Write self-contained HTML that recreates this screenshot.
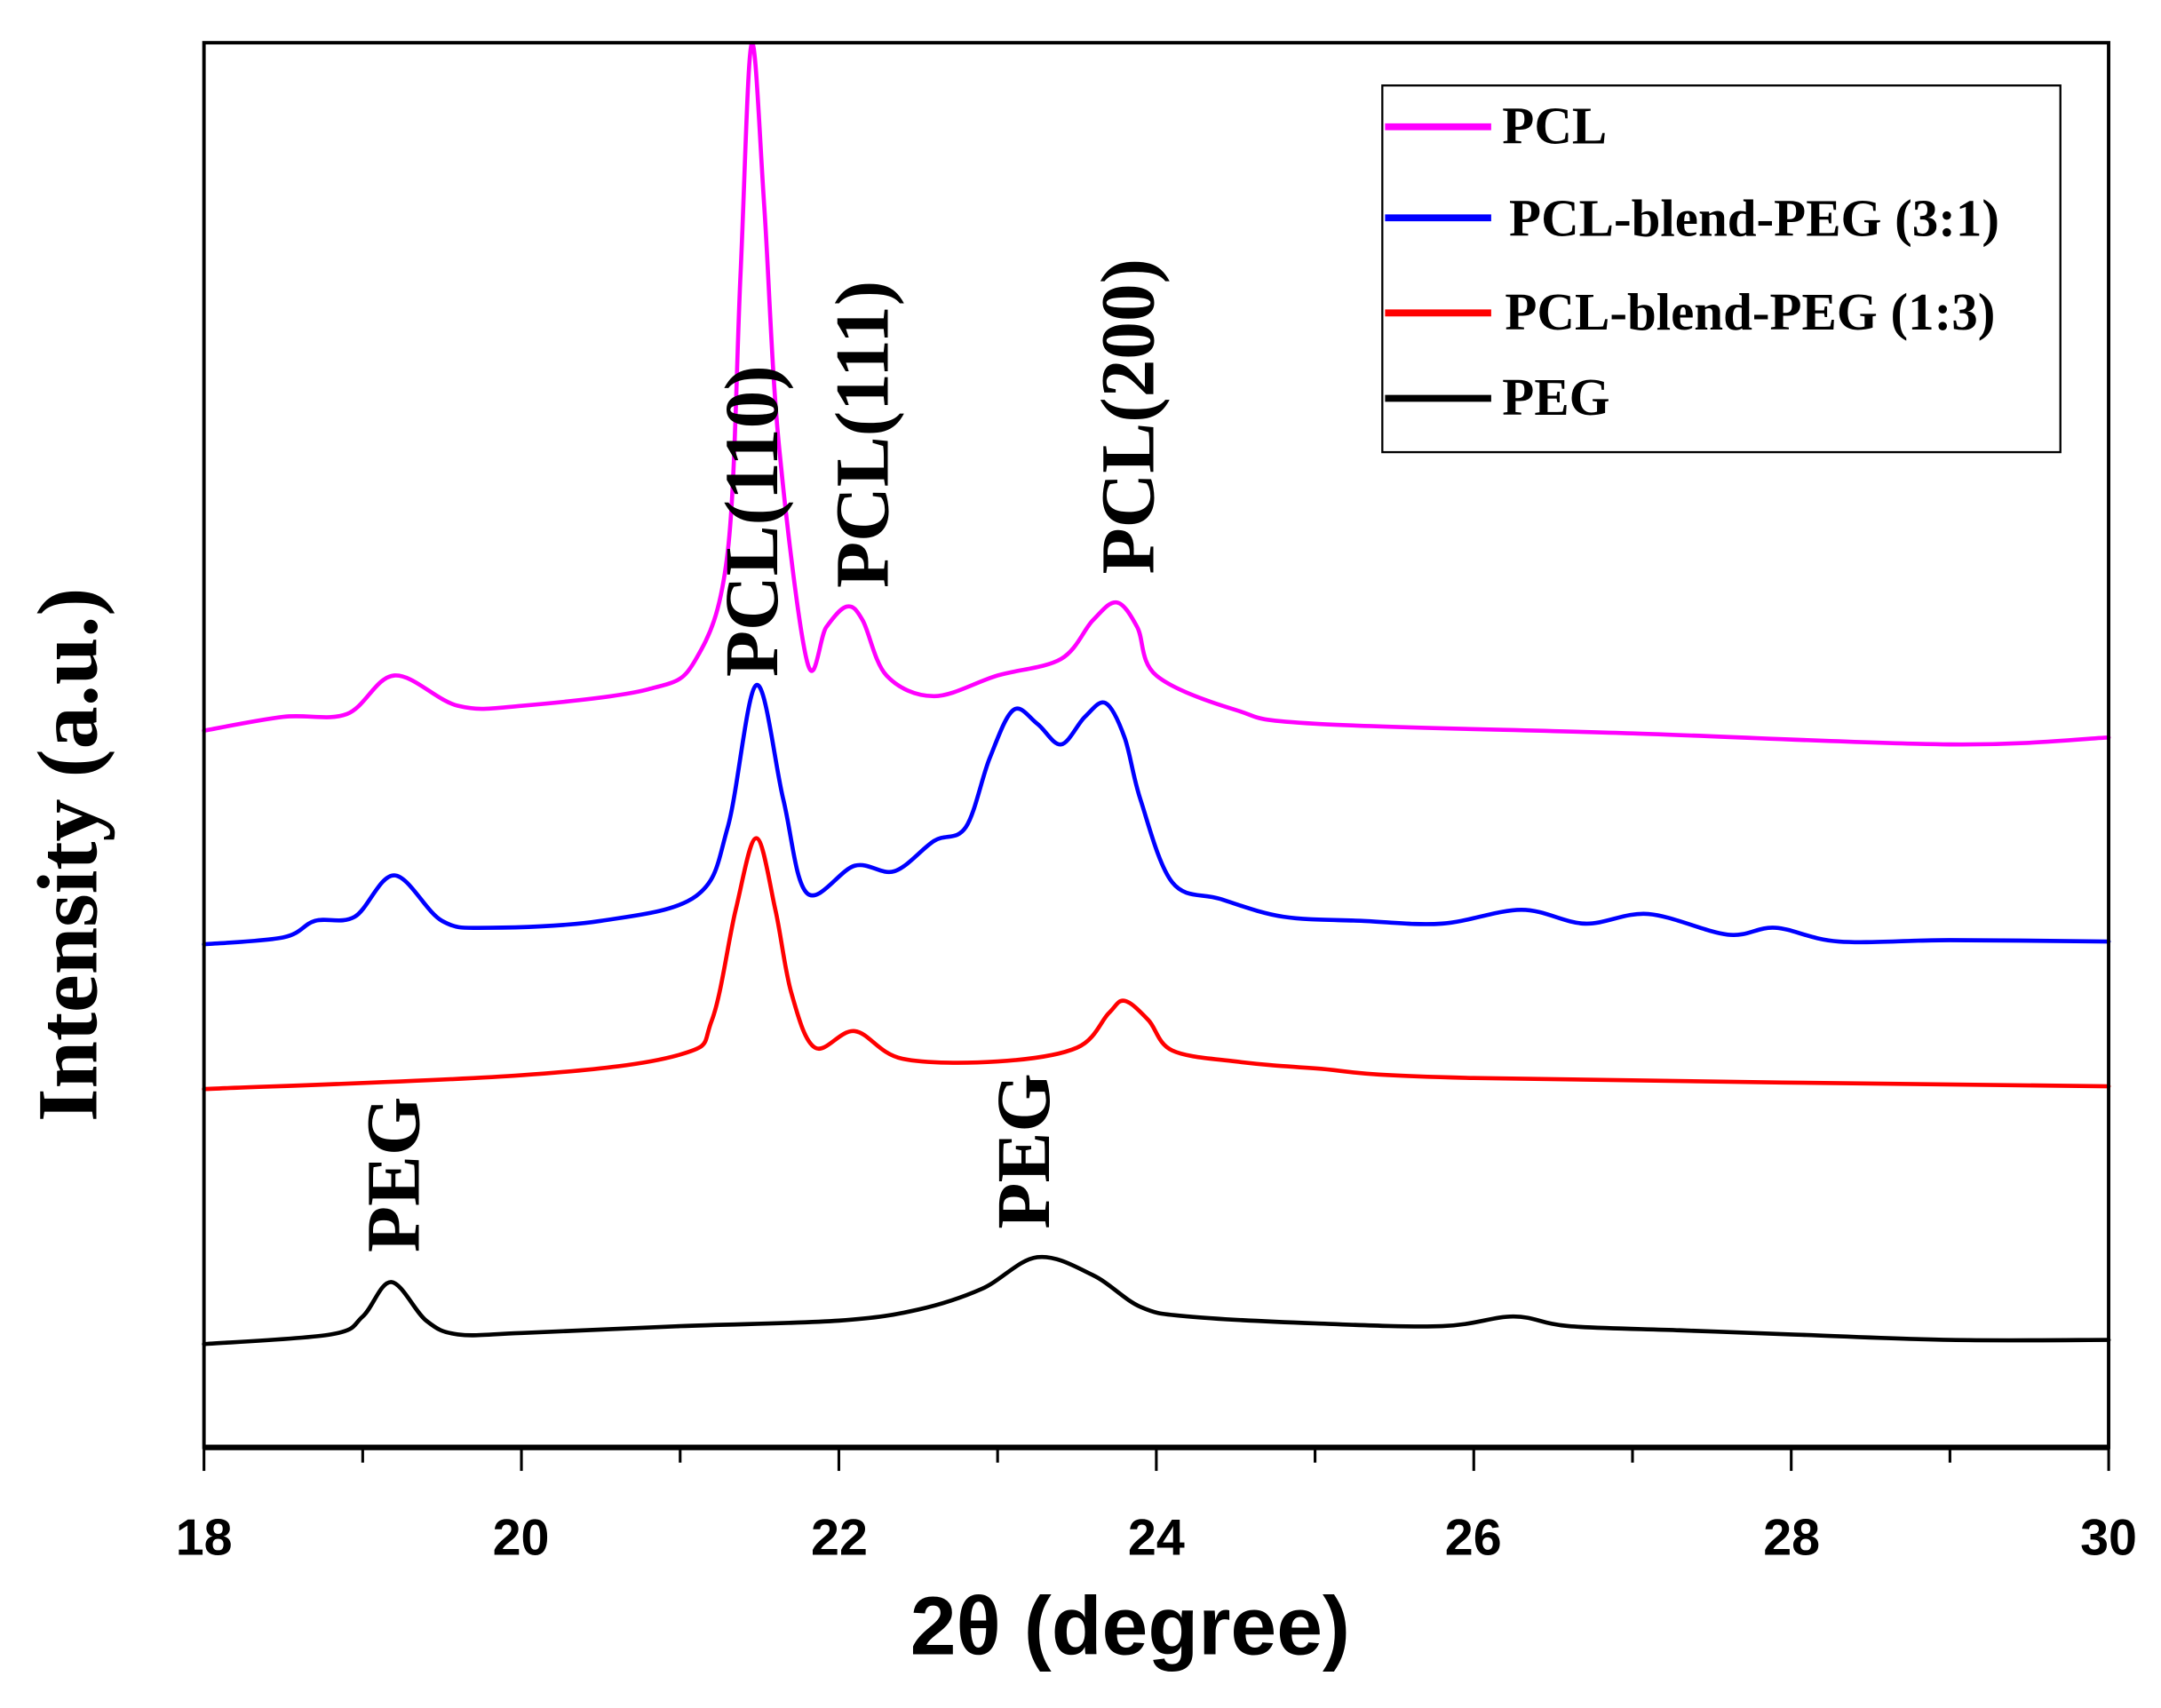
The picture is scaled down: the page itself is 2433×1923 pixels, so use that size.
<!DOCTYPE html>
<html><head><meta charset="utf-8"><style>
html,body{margin:0;padding:0;background:#fff;}
svg{display:block;}
.t{font-family:"Liberation Serif",serif;font-weight:bold;fill:#000;}
.s{font-family:"Liberation Sans",sans-serif;font-weight:bold;fill:#000;}
</style></head><body>
<svg id="c" width="2433" height="1923" viewBox="0 0 1568 1239" preserveAspectRatio="none" xmlns="http://www.w3.org/2000/svg">
<rect x="0" y="0" width="1568" height="1239" fill="#fff"/>
<g id="series" fill="none" stroke-width="3" stroke-linejoin="round" stroke-linecap="round"></g>
<rect x="148" y="31" width="1382" height="1019" fill="none" stroke="#000" stroke-width="2.5"/>
<line x1="148" y1="1050" x2="1530" y2="1050" stroke="#000" stroke-width="4"/>
<g id="ticks" stroke="#000" stroke-width="2"></g>
<g class="s" font-size="37" text-anchor="middle">
<text x="148" y="1128">18</text><text x="378" y="1128">20</text><text x="609" y="1128">22</text>
<text x="839" y="1128">24</text><text x="1069" y="1128">26</text><text x="1300" y="1128">28</text><text x="1530" y="1128">30</text>
</g>
<text class="s" x="820" y="1200" font-size="60" text-anchor="middle">2θ (degree)</text>
<text class="t" font-size="62" text-anchor="middle" transform="translate(70,620) rotate(-90)">Intensity (a.u.)</text>
<g class="t" font-size="55" text-anchor="middle">
<text transform="translate(564,378) rotate(-90)">PCL(110)</text>
<text transform="translate(644,315) rotate(-90)">PCL(111)</text>
<text transform="translate(837,302) rotate(-90)">PCL(200)</text>
<text transform="translate(304,852) rotate(-90)">PEG</text>
<text transform="translate(761,835) rotate(-90)">PEG</text>
</g>
<rect x="1003" y="62" width="492" height="266" fill="#fff" stroke="#000" stroke-width="1.5"/>
<g stroke-width="5">
<line x1="1005" y1="92" x2="1082" y2="92" stroke="#ff00ff"/>
<line x1="1005" y1="158" x2="1082" y2="158" stroke="#0000ff"/>
<line x1="1005" y1="227" x2="1082" y2="227" stroke="#ff0000"/>
<line x1="1005" y1="289" x2="1082" y2="289" stroke="#000"/>
</g>
<g class="t" font-size="38">
<text x="1090" y="104">PCL</text>
<text x="1095" y="171">PCL-blend-PEG (3:1)</text>
<text x="1092" y="239">PCL-blend-PEG (1:3)</text>
<text x="1090" y="301">PEG</text>
</g>
</svg>
<script>
var X=function(x){return 148+(x-18)*115.17;};
var data={
"#ff00ff":[[18,530],[18.5,520],[18.9,518],[19.2,490],[19.6,512],[20,512],[20.8,500],[21.1,478],[21.3,400],[21.38,200],[21.45,32],[21.53,150],[21.62,320],[21.8,480],[21.92,455],[22.05,440],[22.15,450],[22.3,490],[22.6,505],[23,490],[23.4,478],[23.6,450],[23.75,437],[23.88,455],[24.0,490],[24.5,515],[25,525],[27,532],[29,540],[30,535]],
"#0000ff":[[18,685],[18.5,680],[18.7,668],[18.95,665],[19.2,635],[19.5,668],[19.8,673],[20.5,668],[21.1,650],[21.3,600],[21.48,497],[21.65,580],[21.8,648],[22.1,628],[22.35,632],[22.6,610],[22.8,600],[22.95,550],[23.1,515],[23.25,525],[23.4,540],[23.55,520],[23.68,510],[23.8,535],[23.9,580],[24.1,640],[24.4,652],[24.8,665],[25.3,668],[25.8,670],[26.3,660],[26.7,670],[27.1,663],[27.6,678],[27.9,673],[28.3,683],[29,682],[30,683]],
"#ff0000":[[18,790],[20,780],[21,765],[21.2,740],[21.35,660],[21.48,608],[21.6,660],[21.7,720],[21.85,760],[22.1,748],[22.4,768],[23,770],[23.5,760],[23.7,735],[23.8,726],[23.95,740],[24.1,762],[24.5,770],[25,775],[26,782],[30,788]],
"#000000":[[18,975],[18.8,968],[19.0,955],[19.18,930],[19.4,958],[19.6,968],[20,967],[21,962],[22,958],[22.5,950],[22.9,935],[23.25,912],[23.6,925],[23.9,948],[24.2,955],[25,960],[25.8,962],[26.25,955],[26.6,962],[27.3,965],[28,968],[29,972],[30,972]]
};
var g=document.getElementById('series'),ns="http://www.w3.org/2000/svg";
for(var c in data){var p=data[c].map(function(a){return [X(a[0]),a[1]];});
var d="M"+p[0][0]+","+p[0][1];
for(var i=0;i<p.length-1;i++){var p0=p[i-1]||p[i],p1=p[i],p2=p[i+1],p3=p[i+2]||p2;
d+=" C"+(p1[0]+(p2[0]-p0[0])/6)+","+(p1[1]+(p2[1]-p0[1])/6)+" "+(p2[0]-(p3[0]-p1[0])/6)+","+(p2[1]-(p3[1]-p1[1])/6)+" "+p2[0]+","+p2[1];}
var e=document.createElementNS(ns,"path");e.setAttribute("d",d);e.setAttribute("stroke",c);g.appendChild(e);}
var t=document.getElementById('ticks');
for(var k=18;k<=30;k++){var l=document.createElementNS(ns,"line"),x=X(k);
l.setAttribute("x1",x);l.setAttribute("x2",x);l.setAttribute("y1",1050);l.setAttribute("y2",k%2==0?1067:1061);t.appendChild(l);}
</script>
</body></html>
